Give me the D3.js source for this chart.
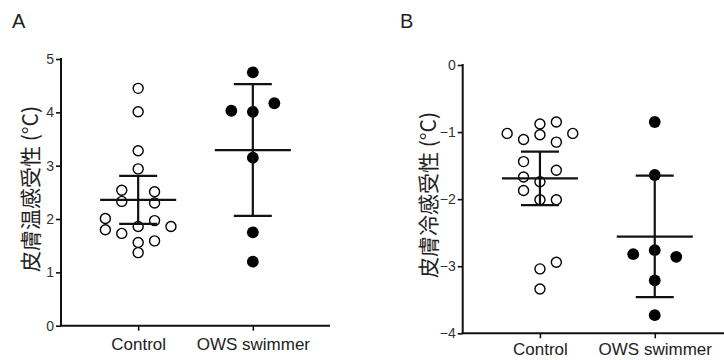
<!DOCTYPE html>
<html lang="ja">
<head>
<meta charset="UTF-8">
<title>皮膚温感受性 / 皮膚冷感受性</title>
<script src="https://cdn.jsdelivr.net/npm/d3@7"></script>
<style>
    body { margin: 0; background: #fff; }
    svg text { font-family: "Liberation Sans", Arial, sans-serif; }
    .ylab { font-family: "Noto Sans CJK JP", sans-serif !important; font-size: 21px; fill: #222; }
    .panel { font-size: 20px; fill: #222; }
</style>
</head>
<body>
<div id="chart"></div>
<script>
    // groups on the x axis
    const categories = ["Control", "OWS swimmer"];

    // panel A: warm sensitivity
    const warmControl = [4.45, 4.01, 3.28, 2.94, 2.54, 2.51, 2.33, 2.30, 2.01, 1.97, 1.80, 1.86, 1.86, 1.73, 1.56, 1.59, 1.37];
    const warmControlSlot = [0, 0, 0, 0, -1, 1, -1, 1, -2, 1, -2, 0, 2, -1, 0, 1, 0];
    const warmOws = [4.75, 4.03, 4.01, 4.17, 3.15, 1.75, 1.20];
    const warmOwsSlot = [0, -1, 0, 1, 0, 0, 0];
    const warmMean = [2.36, 3.29];
    const warmLow = [1.91, 2.06];
    const warmHigh = [2.81, 4.53];
    const warmTicks = [0, 1, 2, 3, 4, 5];

    // panel B: cold sensitivity
    const coldControl = [-1.02, -0.88, -0.85, -1.02, -1.11, -1.04, -1.15, -1.44, -1.57, -1.67, -1.74, -1.87, -2.01, -2.01, -3.04, -2.94, -3.34];
    const coldControlSlot = [-2, 0, 1, 2, -1, 0, 1, -1, 1, -1, 0, -1, 0, 1, 0, 1, 0];
    const coldOws = [-0.85, -1.64, -2.82, -2.76, -2.86, -3.21, -3.73];
    const coldOwsSlot = [0, 0, -1, 0, 1, 0, 0];
    const coldMean = [-1.69, -2.56];
    const coldLow = [-2.09, -3.46];
    const coldHigh = [-1.29, -1.65];
    const coldTicks = [-4, -3, -2, -1, 0];

    const width = 724, height = 360;
    const svg = d3.select("#chart").append("svg")
        .attr("width", width).attr("height", height);

    function drawPanel(opt) {
        const g = svg.append("g");

        const y = d3.scaleLinear().domain(opt.domain).range([opt.bottom, opt.top]);
        const x = d3.scalePoint().domain(categories).range([opt.left, opt.right]).padding(0.673);

        // y axis
        g.append("g")
            .attr("transform", `translate(${opt.left},0)`)
            .call(d3.axisLeft(y).tickValues(opt.ticks).tickSize(5).tickPadding(2).tickFormat(d3.format("d")))
            .call(a => a.select(".domain").attr("stroke", "#111").attr("stroke-width", 2).attr("d", `M0,${opt.top - 1}V${opt.bottom}`))
            .call(a => a.selectAll(".tick line").attr("stroke", "#111").attr("stroke-width", 1.6))
            .call(a => a.selectAll(".tick text").attr("font-size", 14).attr("fill", "#333"));

        // x axis
        g.append("g")
            .attr("transform", `translate(0,${opt.bottom})`)
            .call(d3.axisBottom(x).tickSize(5).tickPadding(opt.catPad))
            .call(a => a.select(".domain").attr("stroke", "#111").attr("stroke-width", 2).attr("d", `M${opt.left - 1},0H${opt.right}`))
            .call(a => a.selectAll(".tick line").attr("stroke", "#111").attr("stroke-width", 1.6))
            .call(a => a.selectAll(".tick text").attr("font-size", 17).attr("fill", "#222"));

        // points
        const groups = [
            { cat: categories[0], vals: opt.control, slots: opt.controlSlot, step: 16.4, filled: false },
            { cat: categories[1], vals: opt.ows, slots: opt.owsSlot, step: 21.5, filled: true }
        ];
        groups.forEach(grp => {
            const off = d3.scaleLinear().domain([0, 1]).range([x(grp.cat), x(grp.cat) + grp.step]);
            g.append("g").selectAll("circle")
                .data(grp.vals.map((v, i) => ({ v, s: grp.slots[i] })))
                .join("circle")
                .attr("cx", d => off(d.s))
                .attr("cy", d => y(d.v))
                .attr("r", grp.filled ? 5.9 : 5)
                .attr("fill", grp.filled ? "#000" : "#fff")
                .attr("stroke", "#000")
                .attr("stroke-width", grp.filled ? 0 : 1.4);
        });

        // mean and 95% CI
        const bars = g.append("g").attr("stroke", "#111").attr("stroke-width", 2.2);
        categories.forEach((c, i) => {
            const cx = x(c);
            bars.append("line").attr("x1", cx - 38).attr("x2", cx + 38).attr("y1", y(opt.mean[i])).attr("y2", y(opt.mean[i]));
            bars.append("line").attr("x1", cx).attr("x2", cx).attr("y1", y(opt.low[i])).attr("y2", y(opt.high[i]));
            bars.append("line").attr("x1", cx - 19).attr("x2", cx + 19).attr("y1", y(opt.low[i])).attr("y2", y(opt.low[i]));
            bars.append("line").attr("x1", cx - 19).attr("x2", cx + 19).attr("y1", y(opt.high[i])).attr("y2", y(opt.high[i]));
        });

        // y label
        g.append("text")
            .attr("class", "ylab")
            .attr("transform", `translate(${opt.labelX},${opt.labelY}) rotate(-90)`)
            .attr("text-anchor", "middle")
            .attr("dominant-baseline", "central")
            .text(opt.label);

        // panel letter
        g.append("text")
            .attr("class", "panel")
            .attr("x", opt.letterX).attr("y", 28)
            .text(opt.letter);
    }

    drawPanel({
        letter: "A", letterX: 12,
        label: "皮膚温感受性 (°C)", labelX: 29, labelY: 189,
        domain: [0, 5], ticks: warmTicks,
        left: 61, right: 330, top: 59, bottom: 325.7, catPad: 7,
        control: warmControl, controlSlot: warmControlSlot,
        ows: warmOws, owsSlot: warmOwsSlot,
        mean: warmMean, low: warmLow, high: warmHigh
    });

    drawPanel({
        letter: "B", letterX: 400,
        label: "皮膚冷感受性 (°C)", labelX: 427, labelY: 195,
        domain: [-4, 0], ticks: coldTicks,
        left: 462.7, right: 732, top: 65, bottom: 333.3, catPad: 5,
        control: coldControl, controlSlot: coldControlSlot,
        ows: coldOws, owsSlot: coldOwsSlot,
        mean: coldMean, low: coldLow, high: coldHigh
    });
</script>
</body>
</html>
